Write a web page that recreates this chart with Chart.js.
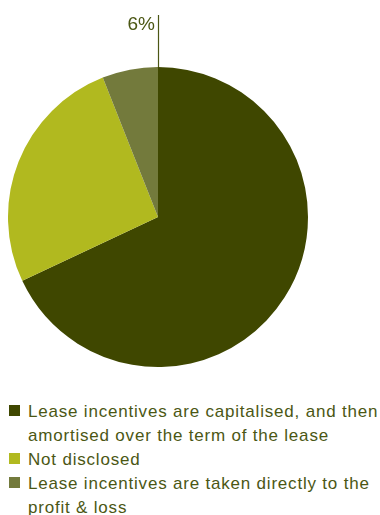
<!DOCTYPE html>
<html>
<head>
<meta charset="utf-8">
<script src="https://cdn.jsdelivr.net/npm/chart.js@4/dist/chart.umd.min.js"></script>
<style>
  html, body { margin: 0; padding: 0; background: #fff; }
  #wrap { position: relative; width: 380px; height: 515px; }
  #pie { position: absolute; left: 0; top: 0; }
  #legend {
    position: absolute; left: 0; top: 400px; width: 380px;
    font-family: "Liberation Sans", Arial, sans-serif; font-size: 17px;
    letter-spacing: 0.8px;
    line-height: 24px; color: #4b5714; margin: 0; padding: 0; list-style: none;
  }
  #legend li { position: relative; padding-left: 28px; }
  #legend li span {
    position: absolute; left: 9px; top: 5px; width: 11px; height: 11px;
  }
</style>
</head>
<body>
<div id="wrap">
  <canvas id="pie" width="380" height="390"></canvas>
  <ul id="legend"></ul>
</div>
<script>
const categories = [
  "Lease incentives are capitalised, and then amortised over the term of the lease",
  "Not disclosed",
  "Lease incentives are taken directly to the profit & loss"
];
const shares = [68, 26, 6];
const sliceColors = ["#3f4700", "#b1b91f", "#737a3c"];
const calloutIndex = 2;

// Legend built from the same categories and colours
const legend = document.getElementById("legend");
categories.forEach((name, i) => {
  const li = document.createElement("li");
  const sw = document.createElement("span");
  sw.style.background = sliceColors[i];
  li.appendChild(sw);
  li.appendChild(document.createTextNode(name));
  legend.appendChild(li);
});

// Leader line and percentage for the smallest slice
const calloutPlugin = {
  id: "callout",
  afterDatasetsDraw(chart) {
    const arc = chart.getDatasetMeta(0).data[calloutIndex];
    if (!arc) return;
    const { x, y, outerRadius, endAngle } = arc.getProps(["x", "y", "outerRadius", "endAngle"], true);
    const px = x + Math.cos(endAngle) * outerRadius;
    const py = y + Math.sin(endAngle) * outerRadius;
    const ctx = chart.ctx;
    ctx.save();
    ctx.strokeStyle = "#4b5714";
    ctx.lineWidth = 1.2;
    ctx.beginPath();
    ctx.moveTo(px + 0.5, py);
    ctx.lineTo(px + 0.5, py - 52);
    ctx.stroke();
    ctx.fillStyle = "#4b5714";
    ctx.font = "19px 'Liberation Sans', Arial, sans-serif";
    ctx.textAlign = "right";
    ctx.textBaseline = "alphabetic";
    ctx.fillText(shares[calloutIndex] + "%", px - 3, py - 37);
    ctx.restore();
  }
};

new Chart(document.getElementById("pie"), {
  type: "pie",
  data: {
    labels: categories,
    datasets: [{
      data: shares,
      backgroundColor: sliceColors,
      borderWidth: 0
    }]
  },
  options: {
    responsive: false,
    animation: false,
    layout: { padding: { left: 8, right: 72, top: 67, bottom: 23 } },
    plugins: {
      legend: { display: false },
      tooltip: { enabled: false }
    }
  },
  plugins: [calloutPlugin]
});
</script>
</body>
</html>
